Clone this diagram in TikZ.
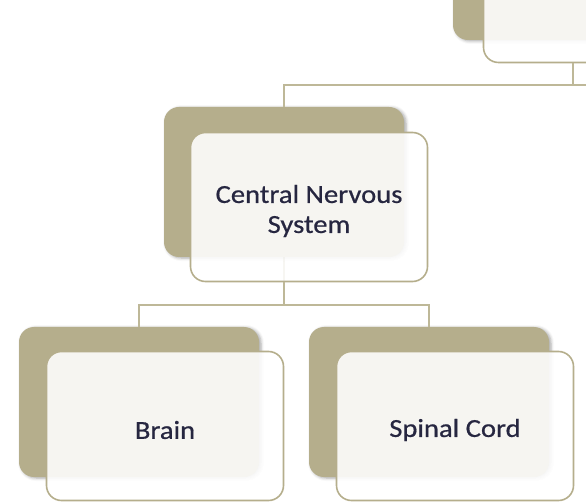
\documentclass[tikz,border=0pt]{standalone}
\usepackage{fontspec}
\setmainfont{Carlito}
\newfontfamily\cardfont[FakeStretch=1.1,FakeBold=0.6]{Carlito}
\usetikzlibrary{shadows.blur}
\definecolor{khaki}{RGB}{181,174,140}
\definecolor{linek}{RGB}{190,184,152}
\definecolor{labelink}{RGB}{38,38,64}
\tikzset{
  backcard/.style={draw=none, fill=khaki, rounded corners=15pt,
    minimum width=240pt, minimum height=150pt, inner sep=0pt,
    blur shadow={shadow xshift=2pt, shadow yshift=-1pt, shadow blur radius=3pt, shadow opacity=35}},
  frontcard/.style={draw=khaki, line width=1.6pt, fill=white, fill opacity=0.88,
    rounded corners=15pt, minimum width=237pt, minimum height=149pt, inner sep=0pt},
  cardtext/.style={align=center, text=labelink, inner sep=0pt, yshift=-4pt,
    font=\cardfont\fontsize{26}{30}\selectfont},
  link/.style={draw=linek, line width=2pt}
}
\begin{document}
\begin{tikzpicture}[x=1pt,y=-1pt]
\useasboundingbox (0,0) rectangle (586,502);
% connector rows
\coordinate (rowA) at (0,85);
\coordinate (rowB) at (0,305);
\coordinate (rowAend) at (590,85);
% parent card, partly outside the frame
\node[backcard] (topback) at (573,-35) {};
\node[frontcard] (topfront) at (602,-12) {};
% card positions (connectors are drawn first, cards on top)
\path (284,182) coordinate (cnsC) (139,402) coordinate (brainC) (429,402) coordinate (spinalC);
\draw[link] (topfront.south -| topback.north) -- (topback.north |- rowA);
\draw[link] (rowAend) -- (cnsC |- rowA) -- (cnsC);
\draw[link] (cnsC) -- (cnsC |- rowB);
\draw[link] (brainC) -- (brainC |- rowB) -- (spinalC |- rowB) -- (spinalC);
% central nervous system card
\node[backcard] (cnsback) at (cnsC) {};
\node[frontcard] (cnsfront) at ([shift={(25pt,-25pt)}]cnsC) {};
\node[cardtext] (cnslabel) at (cnsfront) {Central Nervous\\System};
% child cards
\node[backcard] (brainback) at (brainC) {};
\node[frontcard] (brainfront) at ([shift={(26pt,-24pt)}]brainC) {};
\node[cardtext] (brainlabel) at (brainfront) {Brain};
\node[backcard] (spinalback) at (spinalC) {};
\node[frontcard] (spinalfront) at ([shift={(26pt,-24pt)}]spinalC) {};
\node[cardtext] (spinallabel) at (spinalfront) {Spinal Cord};
% short stubs between the cards and the connector rows
\draw[link] (cnsfront.south -| cnsback.center) -- (cnsback.center |- rowB);
\draw[link] (topback.north |- rowA) -- (cnsback.north |- rowA) -- (cnsback.north);
\draw[link] (brainback.north |- rowB) -- (brainback.north);
\draw[link] (spinalback.north |- rowB) -- (spinalback.north);
\end{tikzpicture}
\end{document}
